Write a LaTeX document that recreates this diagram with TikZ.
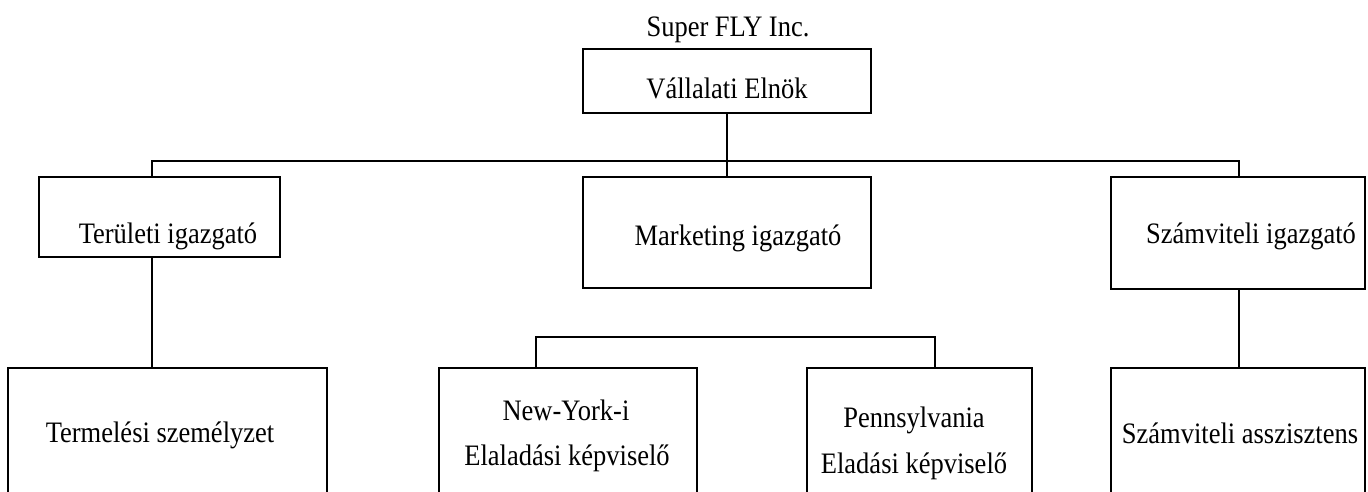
\documentclass[tikz,border=0pt]{standalone}
\usepackage{graphicx}
\usepackage{fontspec}
\setmainfont{Liberation Serif}
% slightly tall lettering
\newcommand{\tallText}[1]{\scalebox{1}[1.12]{#1}}
\begin{document}
\begin{tikzpicture}[x=1pt,y=-1pt,
  box/.style={draw, line width=1.6pt, rectangle, inner sep=0pt},
  wire/.style={line width=1.3pt},
  lbl/.style={font=\fontsize{26.5}{32}\selectfont, anchor=base, inner sep=0pt}]
\useasboundingbox (0,0) rectangle (1368,491);
\clip (0,0) rectangle (1368,491);

% company title
\node[lbl] (title) at (728,36) {\tallText{Super FLY Inc.}};

% top level
\node[box, minimum width=288, minimum height=64] (ceo) at (727,81) {};
\node[lbl] (ceo-t) at (727,98) {\tallText{Vállalati Elnök}};

% second level
\node[box, minimum width=241, minimum height=80] (area) at (159.5,217) {};
\node[lbl] (area-t) at (168,243) {\tallText{Területi igazgató}};
\node[box, minimum width=288, minimum height=111] (mkt) at (727,232.5) {};
\node[lbl] (mkt-t) at (738,245) {\tallText{Marketing igazgató}};
\node[box, minimum width=254, minimum height=112] (acc) at (1238,233) {};
\node[lbl] (acc-t) at (1251,243) {\tallText{Számviteli igazgató}};

% third level (boxes run past the lower edge)
\node[box, minimum width=319, minimum height=152] (prod) at (167.5,444) {};
\node[lbl] (prod-t) at (160,442) {\tallText{Termelési személyzet}};
\node[box, minimum width=258, minimum height=152] (ny) at (568,444) {};
\node[lbl] (ny-a) at (566,420) {\tallText{New-York-i}};
\node[lbl] (ny-b) at (567,465) {\tallText{Elaladási képviselő}};
\node[box, minimum width=225, minimum height=152] (pa) at (919.5,444) {};
\node[lbl] (pa-a) at (914,427) {\tallText{Pennsylvania}};
\node[lbl] (pa-b) at (914,473) {\tallText{Eladási képviselő}};
\node[box, minimum width=254, minimum height=152] (asst) at (1238,444) {};
\node[lbl] (asst-t) at (1240,443) {\tallText{Számviteli asszisztens}};

% connector points
\coordinate (busL) at (152,161);
\coordinate (busC) at (727,161);
\coordinate (busR) at (1239,161);
\coordinate (subL) at (536,337);
\coordinate (subR) at (935,337);

% main bus
\draw[wire] (ceo.south) -- (busC);
\draw[wire] (busL |- area.north) -- (busL) -- (busR) -- (busR |- acc.north);
\draw[wire] (busC) -- (mkt.north);

% lower connections
\draw[wire] (busL |- area.south) -- (busL |- prod.north);
\draw[wire] (subL |- ny.north) -- (subL) -- (subR) -- (subR |- pa.north);
\draw[wire] (busR |- acc.south) -- (busR |- asst.north);
\end{tikzpicture}
\end{document}
